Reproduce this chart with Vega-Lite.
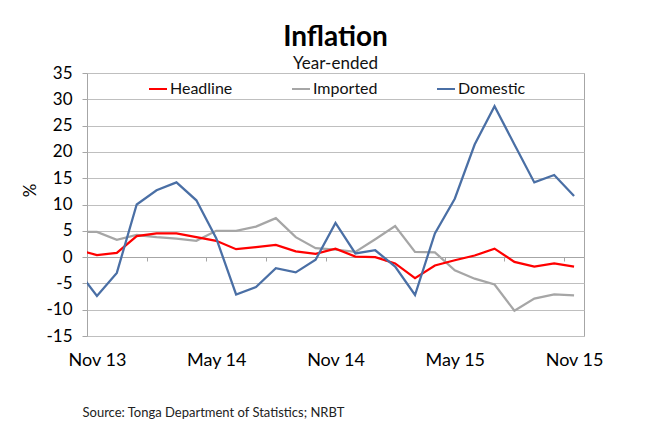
{
  "$schema": "https://vega.github.io/schema/vega-lite/v6.json",
  "width": 497,
  "height": 263,
  "autosize": {"type": "none"},
  "padding": {"left": 87, "top": 73, "right": 67, "bottom": 94},
  "background": "white",
  "title": {
    "text": "Inflation",
    "subtitle": "Year-ended",
    "anchor": "middle",
    "frame": "group",
    "font": "Lato",
    "fontSize": 28,
    "fontWeight": "bold",
    "color": "#000000",
    "subtitleFont": "Lato",
    "subtitleFontSize": 17,
    "subtitleColor": "#111111",
    "subtitlePadding": 4,
    "offset": -8
  },
  "data": {
    "values": [
      {"i": -1, "month": "Oct 13", "Headline": 1.4, "Imported": 4.8, "Domestic": -2.4},
      {"i": 0, "month": "Nov 13", "Headline": 0.4, "Imported": 4.8, "Domestic": -7.4},
      {"i": 1, "month": "Dec 13", "Headline": 0.8, "Imported": 3.3, "Domestic": -3.0},
      {"i": 2, "month": "Jan 14", "Headline": 4.0, "Imported": 4.2, "Domestic": 10.0},
      {"i": 3, "month": "Feb 14", "Headline": 4.5, "Imported": 3.8, "Domestic": 12.7},
      {"i": 4, "month": "Mar 14", "Headline": 4.5, "Imported": 3.5, "Domestic": 14.2},
      {"i": 5, "month": "Apr 14", "Headline": 3.8, "Imported": 3.1, "Domestic": 10.8},
      {"i": 6, "month": "May 14", "Headline": 3.1, "Imported": 5.0, "Domestic": 3.6},
      {"i": 7, "month": "Jun 14", "Headline": 1.5, "Imported": 5.0, "Domestic": -7.1},
      {"i": 8, "month": "Jul 14", "Headline": 1.9, "Imported": 5.8, "Domestic": -5.7},
      {"i": 9, "month": "Aug 14", "Headline": 2.3, "Imported": 7.4, "Domestic": -2.1},
      {"i": 10, "month": "Sep 14", "Headline": 1.1, "Imported": 3.8, "Domestic": -2.9},
      {"i": 11, "month": "Oct 14", "Headline": 0.6, "Imported": 1.7, "Domestic": -0.5},
      {"i": 12, "month": "Nov 14", "Headline": 1.6, "Imported": 1.4, "Domestic": 6.5},
      {"i": 13, "month": "Dec 14", "Headline": 0.1, "Imported": 1.0, "Domestic": 0.7},
      {"i": 14, "month": "Jan 15", "Headline": 0.0, "Imported": 3.4, "Domestic": 1.3},
      {"i": 15, "month": "Feb 15", "Headline": -1.2, "Imported": 5.9, "Domestic": -1.8},
      {"i": 16, "month": "Mar 15", "Headline": -4.0, "Imported": 1.0, "Domestic": -7.2},
      {"i": 17, "month": "Apr 15", "Headline": -1.6, "Imported": 0.9, "Domestic": 4.5},
      {"i": 18, "month": "May 15", "Headline": -0.6, "Imported": -2.5, "Domestic": 11.1},
      {"i": 19, "month": "Jun 15", "Headline": 0.3, "Imported": -4.1, "Domestic": 21.4},
      {"i": 20, "month": "Jul 15", "Headline": 1.6, "Imported": -5.2, "Domestic": 28.7},
      {"i": 21, "month": "Aug 15", "Headline": -0.9, "Imported": -10.2, "Domestic": 21.4},
      {"i": 22, "month": "Sep 15", "Headline": -1.8, "Imported": -7.9, "Domestic": 14.2},
      {"i": 23, "month": "Oct 15", "Headline": -1.2, "Imported": -7.1, "Domestic": 15.6},
      {"i": 24, "month": "Nov 15", "Headline": -1.8, "Imported": -7.3, "Domestic": 11.6}
    ]
  },
  "transform": [
    {"fold": ["Imported", "Headline", "Domestic"], "as": ["series", "v"]}
  ],
  "encoding": {
    "y": {
      "field": "v",
      "type": "quantitative",
      "scale": {"domain": [-15, 35], "nice": false, "zero": false},
      "axis": {
        "values": [-15, -10, -5, 0, 5, 10, 15, 20, 25, 30, 35],
        "labelExpr": "toString(datum.value)",
        "grid": true,
        "gridColor": "#bfbfbf",
        "domain": false,
        "ticks": true,
        "tickSize": 5,
        "tickColor": "#a6a6a6",
        "labelPadding": 10,
        "labelFontSize": 17,
        "labelColor": "#000000",
        "title": "%",
        "titleFontSize": 17,
        "titleFontWeight": "normal",
        "titleColor": "#000000",
        "titleAngle": -90,
        "titleAlign": "center",
        "titleBaseline": "middle",
        "titleX": -57,
        "titleY": 117
      }
    }
  },
  "layer": [
    {
      "mark": {"type": "line", "clip": true, "strokeWidth": 2.25},
      "encoding": {
        "x": {
          "field": "i",
          "type": "quantitative",
          "scale": {"domain": [-0.5, 24.5], "nice": false, "zero": false},
          "axis": {
            "orient": "bottom",
            "values": [0, 6, 12, 18, 24],
            "labelExpr": "datum.value == 0 ? 'Nov 13' : datum.value == 6 ? 'May 14' : datum.value == 12 ? 'Nov 14' : datum.value == 18 ? 'May 15' : 'Nov 15'",
            "domain": false,
            "ticks": false,
            "grid": false,
            "labelFontSize": 18,
            "labelColor": "#000000",
            "labelPadding": 15,
            "labelFlush": false,
            "title": "Source: Tonga Department of Statistics; NRBT",
            "titleFontSize": 13,
            "titleFontWeight": "normal",
            "titleColor": "#222222",
            "titleAnchor": "start",
            "titleAlign": "left",
            "titleBaseline": "middle",
            "titleX": -5,
            "titleY": 76
          }
        },
        "color": {
          "field": "series",
          "type": "nominal",
          "scale": {
            "domain": ["Headline", "Imported", "Domestic"],
            "range": ["#ff0000", "#a6a6a6", "#4a6fa5"]
          },
          "legend": {
            "orient": "none",
            "direction": "horizontal",
            "legendX": 61,
            "legendY": 6,
            "title": null,
            "symbolType": "stroke",
            "symbolSize": 324,
            "symbolStrokeWidth": 2,
            "labelFontSize": 16,
            "labelColor": "#111111",
            "labelOffset": 2,
            "columnPadding": 55
          }
        }
      }
    },
    {
      "mark": {"type": "point", "opacity": 0},
      "encoding": {
        "x": {
          "field": "i",
          "type": "quantitative",
          "scale": {"domain": [-0.5, 24.5], "nice": false, "zero": false},
          "axis": {
            "orient": "bottom",
            "offset": -79,
            "values": [-0.5, 2.5, 5.5, 8.5, 11.5, 14.5, 17.5, 20.5, 23.5],
            "labels": false,
            "domain": true,
            "domainColor": "#a6a6a6",
            "ticks": true,
            "tickSize": 4,
            "tickColor": "#a6a6a6",
            "grid": false,
            "title": null
          }
        }
      }
    }
  ],
  "resolve": {"axis": {"x": "independent"}},
  "config": {
    "font": "Lato",
    "view": {"stroke": "#a6a6a6", "strokeWidth": 1}
  }
}
